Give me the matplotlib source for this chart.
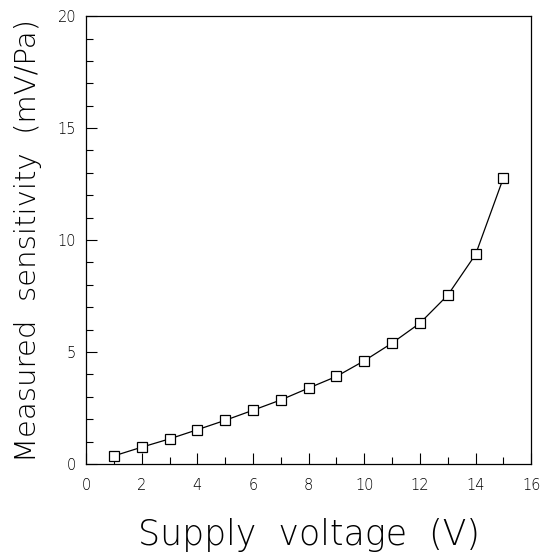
import numpy as np
import matplotlib
matplotlib.use("Agg")
import matplotlib.pyplot as plt
from matplotlib.ticker import MultipleLocator

# measured points
voltage = [1, 2, 3, 4, 5, 6, 7, 8, 9, 10, 11, 12, 13, 14, 15]
sensitivity = [0.36, 0.75, 1.12, 1.53, 1.95, 2.40, 2.86, 3.39, 3.91,
               4.61, 5.40, 6.29, 7.54, 9.36, 12.78]

x_ticks = [0, 2, 4, 6, 8, 10, 12, 14, 16]
y_ticks = [0, 5, 10, 15, 20]

plt.rcParams['font.family'] = ['DejaVu Sans']

fig = plt.figure(figsize=(5.41, 5.56), dpi=100)
ax = fig.add_axes([0.159, 0.1655, 0.823, 0.8055])

ax.plot(voltage, sensitivity, color='black', lw=0.9,
        marker='s', markersize=7.5, markerfacecolor='white',
        markeredgecolor='black', markeredgewidth=0.9)

ax.set_xlim(0, 16)
ax.set_ylim(0, 20)
ax.set_xticks(x_ticks)
ax.set_yticks(y_ticks)
ax.xaxis.set_minor_locator(MultipleLocator(1))
ax.yaxis.set_minor_locator(MultipleLocator(1))
ax.tick_params(which='both', direction='in', top=False, right=False,
               labelsize=10.5, labelcolor='black', width=0.8)
ax.tick_params(axis='x', which='major', length=8, pad=10)
ax.tick_params(axis='y', which='major', length=8, pad=7)
ax.tick_params(which='minor', length=5)
for lab in ax.get_xticklabels() + ax.get_yticklabels():
    lab.set_fontweight(200)
for sp in ax.spines.values():
    sp.set_linewidth(0.9)

ax.set_xlabel('Supply  voltage  (V)', fontsize=25, fontweight=200,
              labelpad=18)
ax.set_ylabel('Measured  sensitivity  (mV/Pa)', fontsize=21,
              fontweight=200, labelpad=11)

fig.savefig('out.png', dpi=100)
